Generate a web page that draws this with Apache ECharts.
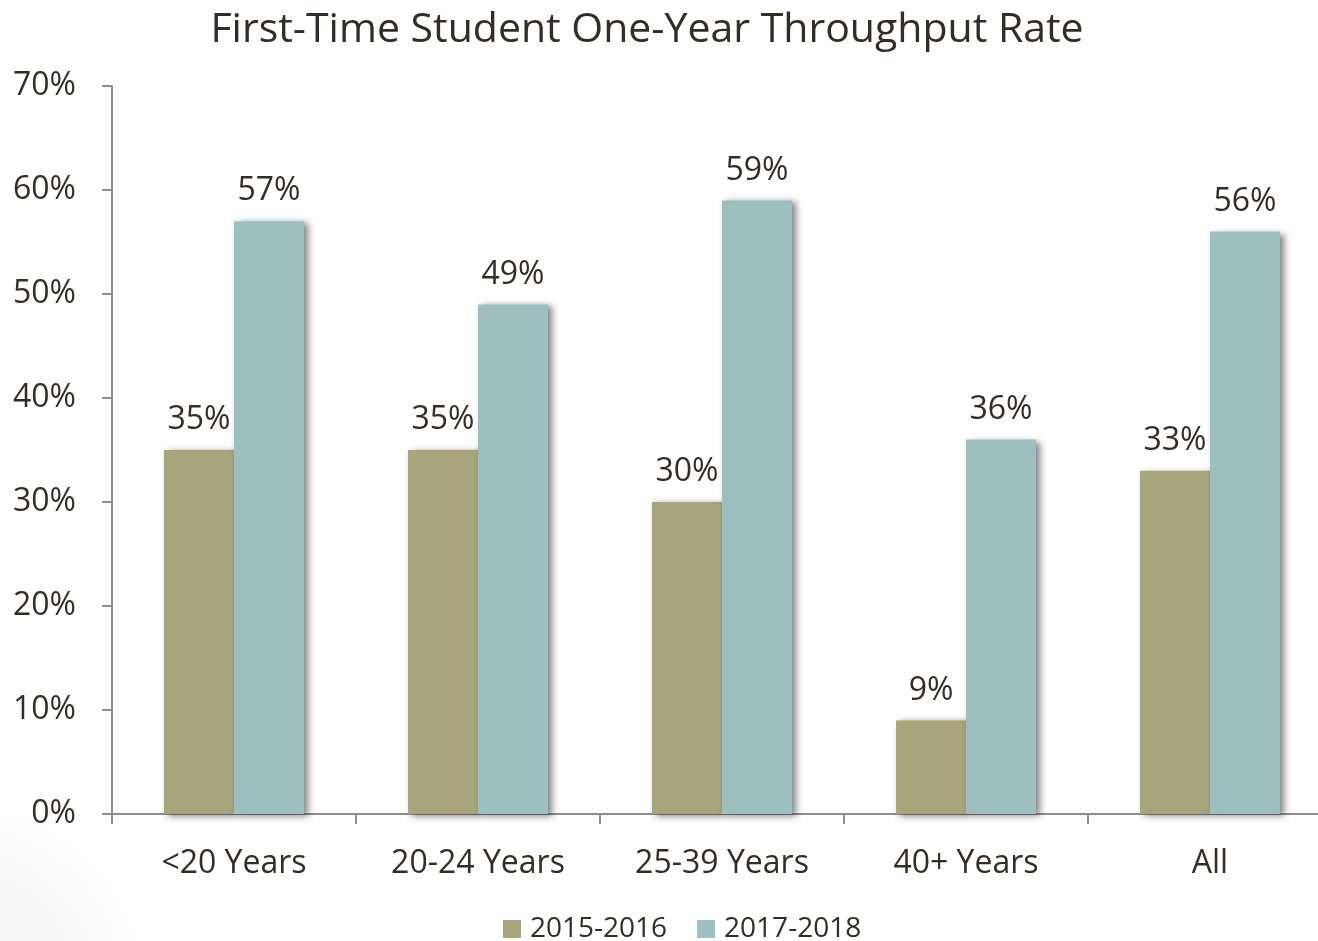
<!DOCTYPE html>
<html>
<head>
<meta charset="utf-8">
<script src="https://cdn.jsdelivr.net/npm/echarts@6/dist/echarts.min.js"></script>
<style>
  html, body { margin: 0; padding: 0; background: #ffffff; overflow: hidden; }
  body { width: 1318px; height: 941px; }
  /* the plot runs slightly past the right edge of the page */
  #chart {
    width: 1340px; height: 941px;
    background: radial-gradient(circle at -40px 990px, rgba(0,0,0,0.05) 0px, rgba(0,0,0,0.025) 120px, rgba(0,0,0,0) 200px), #ffffff;
  }
</style>
</head>
<body>
<div id="chart"></div>
<script>
// Age groups along the x axis
const categories = ['<20 Years', '20-24 Years', '25-39 Years', '40+ Years', 'All'];
// One-year throughput rate (%) per cohort
const rate2015_2016 = [35, 35, 30, 9, 33];
const rate2017_2018 = [57, 49, 59, 36, 56];
const seriesNames = ['2015-2016', '2017-2018'];
const yTicks = [0, 10, 20, 30, 40, 50, 60, 70];

const FONT = '"Open Sans", "Noto Sans", sans-serif';
const TEXT = '#332d25';
const AXIS = '#8f8f8f';

const chart = echarts.init(document.getElementById('chart'), null, { renderer: 'canvas' });

const barShadow = {
  shadowColor: 'rgba(0,0,0,0.5)',
  shadowBlur: 7,
  shadowOffsetX: 4,
  shadowOffsetY: 2
};

chart.setOption({
  animation: false,
  backgroundColor: 'transparent',
  title: {
    text: 'First-Time Student One-Year Throughput Rate',
    left: 642,
    top: 5,
    textAlign: 'center',
    textStyle: { fontFamily: FONT, fontWeight: 'normal', fontSize: 41, color: TEXT }
  },
  legend: {
    data: seriesNames,
    left: 498,
    top: 910,
    itemWidth: 18,
    itemHeight: 18,
    itemGap: 30,
    icon: 'rect',
    textStyle: { fontFamily: FONT, fontSize: 28, color: TEXT, padding: [0, 0, 0, 4] }
  },
  grid: { left: 112, top: 86, width: 1220, height: 728, containLabel: false },
  xAxis: {
    type: 'category',
    data: categories,
    axisLine: { lineStyle: { color: AXIS, width: 2 } },
    axisTick: { show: true, length: 10, lineStyle: { color: AXIS, width: 2 } },
    axisLabel: { fontFamily: FONT, fontSize: 32, color: TEXT, margin: 34 },
    splitLine: { show: false }
  },
  yAxis: {
    type: 'value',
    min: yTicks[0],
    max: yTicks[yTicks.length - 1],
    interval: 10,
    axisLine: { show: true, lineStyle: { color: AXIS, width: 2 } },
    axisTick: { show: true, length: 10, lineStyle: { color: AXIS, width: 2 } },
    axisLabel: { fontFamily: FONT, fontSize: 32, color: TEXT, margin: 36, formatter: '{value}%' },
    splitLine: { show: false }
  },
  series: [
    {
      name: seriesNames[0],
      type: 'bar',
      data: rate2015_2016,
      barWidth: 70,
      barGap: '0%',
      itemStyle: Object.assign({ color: '#a8a47b' }, barShadow),
      label: {
        show: true, position: 'top', distance: 14, formatter: '{c}%',
        fontFamily: FONT, fontSize: 32, color: TEXT
      }
    },
    {
      name: seriesNames[1],
      type: 'bar',
      data: rate2017_2018,
      barWidth: 70,
      barGap: '0%',
      itemStyle: Object.assign({ color: '#9dbfbf' }, barShadow),
      label: {
        show: true, position: 'top', distance: 14, formatter: '{c}%',
        fontFamily: FONT, fontSize: 32, color: TEXT
      }
    }
  ]
});
</script>
</body>
</html>
